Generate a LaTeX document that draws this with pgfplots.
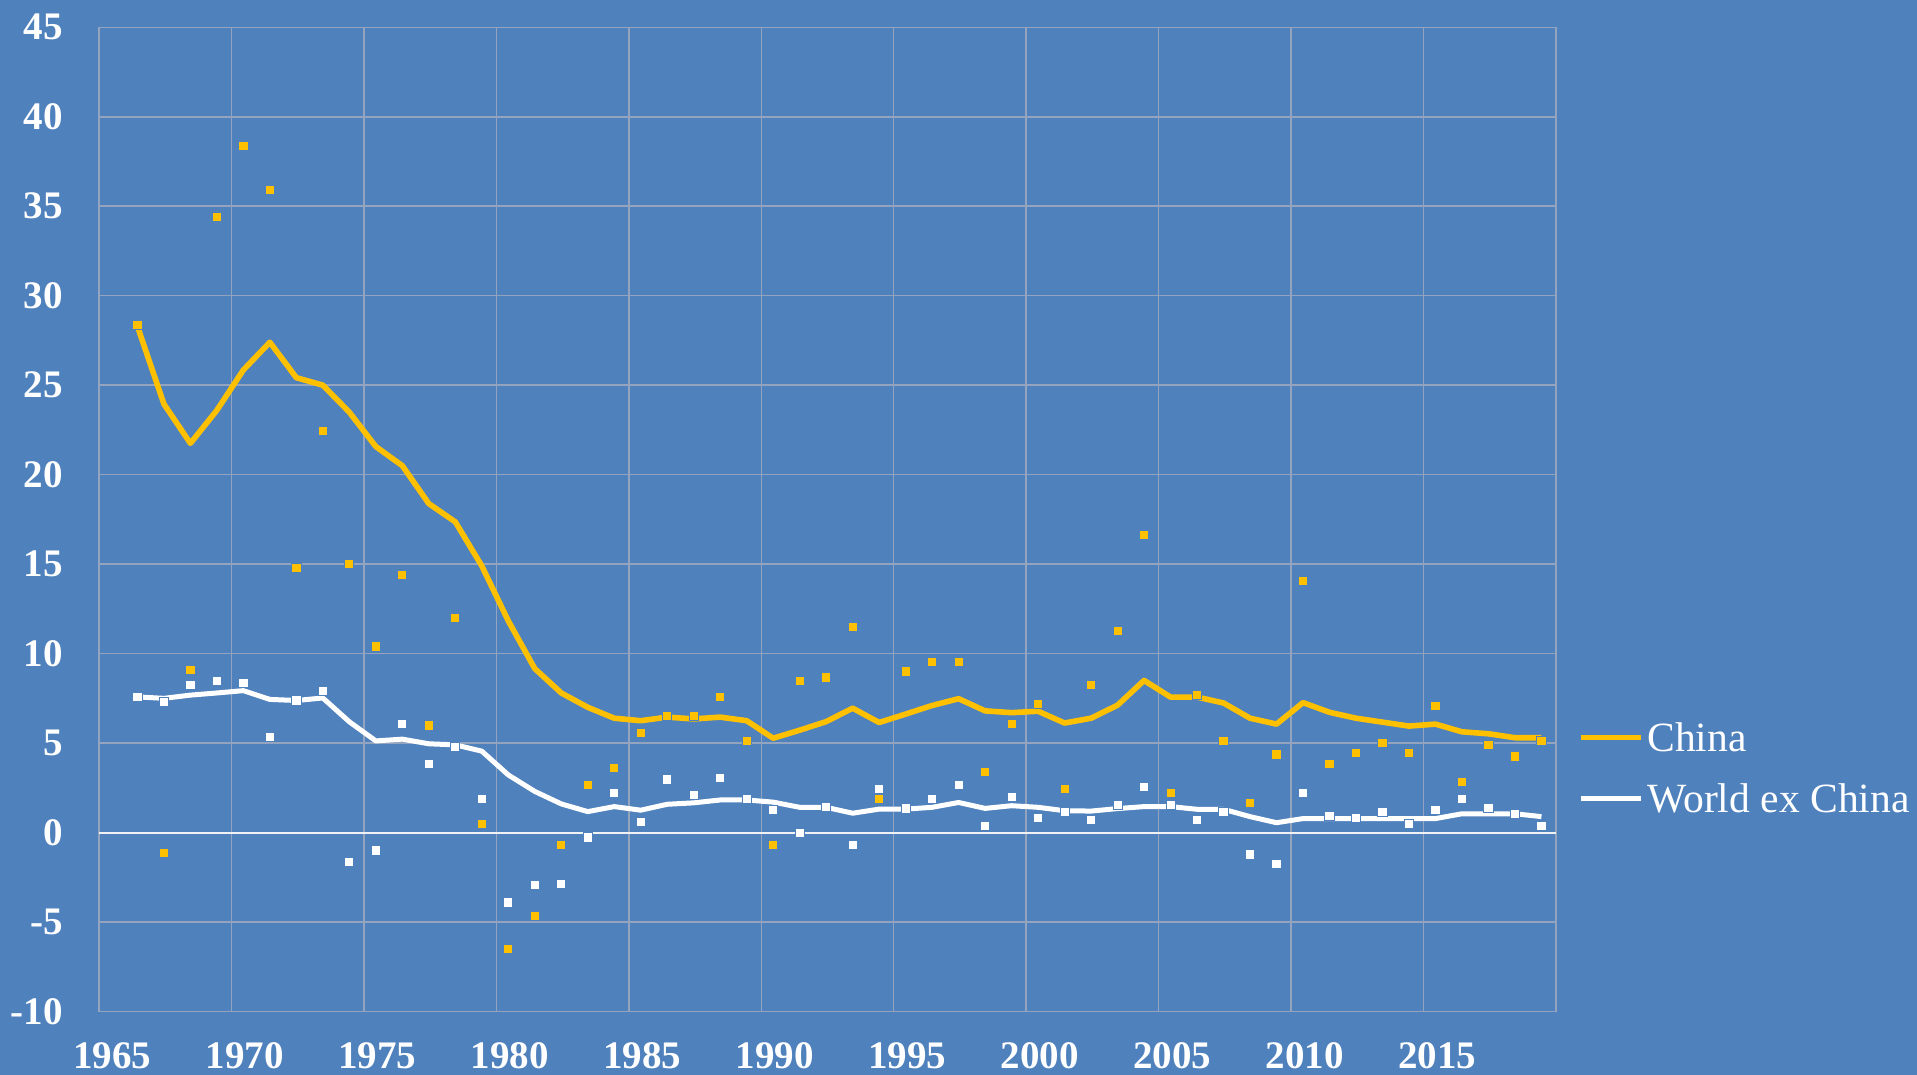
\documentclass[border=0pt]{standalone}
\usepackage{fontspec}
\setmainfont{Liberation Serif}
\usepackage{pgfplots}
\usepackage{pgfplotstable}
\pgfplotsset{compat=1.18}
\definecolor{bg}{HTML}{4F81BD}
\definecolor{gold}{HTML}{FFC000}
\definecolor{gridc}{RGB}{148,164,190}

\pgfplotstableread{
year china world chinaavg worldavg
1966 28.37 7.58 28.3 7.58
1967 -1.13 7.30 23.95 7.50
1968 9.10 8.24 21.75 7.68
1969 34.40 8.46 23.60 7.80
1970 38.39 8.36 25.85 7.93
1971 35.90 5.33 27.40 7.44
1972 14.80 7.38 25.42 7.38
1973 22.44 7.91 25.00 7.52
1974 15.00 -1.66 23.49 6.19
1975 10.40 -1.00 21.57 5.12
1976 14.38 6.08 20.50 5.22
1977 5.98 3.83 18.38 4.96
1978 12.00 4.79 17.36 4.90
1979 0.49 1.88 14.90 4.55
1980 -6.49 -3.91 11.83 3.22
1981 -4.67 -2.95 9.16 2.30
1982 -0.70 -2.85 7.80 1.60
1983 2.67 -0.27 7.00 1.17
1984 3.60 2.21 6.39 1.45
1985 5.55 0.59 6.25 1.25
1986 6.52 2.97 6.45 1.58
1987 6.52 2.09 6.35 1.66
1988 7.60 3.07 6.45 1.82
1989 5.12 1.88 6.25 1.82
1990 -0.69 1.25 5.27 1.70
1991 8.46 -0.04 5.72 1.41
1992 8.67 1.45 6.20 1.41
1993 11.48 -0.69 6.95 1.08
1994 1.88 2.42 6.15 1.31
1995 9.00 1.35 6.62 1.31
1996 9.53 1.88 7.10 1.41
1997 9.53 2.64 7.48 1.68
1998 3.40 0.39 6.80 1.35
1999 6.09 2.00 6.70 1.50
2000 7.17 0.82 6.78 1.41
2001 2.43 1.13 6.12 1.22
2002 8.24 0.71 6.39 1.20
2003 11.25 1.56 7.12 1.34
2004 16.64 2.54 8.50 1.45
2005 2.20 1.56 7.57 1.45
2006 7.70 0.71 7.57 1.30
2007 5.12 1.13 7.24 1.30
2008 1.67 -1.22 6.39 0.89
2009 4.36 -1.76 6.06 0.55
2010 14.05 2.20 7.26 0.78
2011 3.83 0.91 6.72 0.78
2012 4.47 0.80 6.39 0.78
2013 5.01 1.13 6.17 0.78
2014 4.47 0.49 5.95 0.78
2015 7.06 1.25 6.06 0.78
2016 2.85 1.89 5.63 1.05
2017 4.90 1.36 5.52 1.05
2018 4.25 1.02 5.30 1.05
2019 5.10 0.38 5.30 0.89
}\datatable

\begin{document}
\begin{tikzpicture}
\useasboundingbox (-49.5pt,-31.75pt) rectangle (909pt,505.75pt);
\fill[bg] (-49.5pt,-31.75pt) rectangle (909pt,505.75pt);
\begin{axis}[
  at={(0pt,0pt)}, anchor=south west,
  scale only axis, width=728.5pt, height=492.1pt,
  xmin=1965, xmax=2020, ymin=-10, ymax=45,
  xtick={1965,1970,...,2015},
  xticklabels={1965,1970,1975,1980,1985,1990,1995,2000,2005,2010,2015},
  ytick={-10,-5,...,45},
  yticklabels={-10,-5,0,5,10,15,20,25,30,35,40,45},
  grid=major,
  grid style={gridc, line width=0.75pt},
  axis line style={gridc, line width=0.75pt},
  major tick length=0pt,
  tick style={draw=none},
  ticklabel style={text=white, font=\bfseries\fontsize{19.5}{22}\selectfont, inner sep=0pt},
  xticklabel style={anchor=north, yshift=-15.5pt, xshift=6.75pt},
  yticklabel style={anchor=east, xshift=-18pt},
  extra y ticks={0}, extra y tick labels={},
  extra y tick style={grid style={white!85!gridc, line width=1pt}},
  legend style={at={(1.0149,0.2475)}, anchor=west, draw=none, fill=none,
    inner sep=0pt, outer sep=0pt, text=white,
    font=\fontsize{20.8}{24}\selectfont, row sep=16.35pt,
    nodes={inner xsep=2pt, inner ysep=0pt, text height=14pt, text depth=0pt}},
  legend cell align=left,
  legend image code/.code={\draw[#1] (0pt,0pt) -- (30pt,0pt);},
]
\addplot[gold, line width=2.8pt, line join=round] table[x expr=\thisrow{year}+0.45, y=chinaavg] {\datatable};
\addlegendentry{China}
\addplot[white, line width=2.5pt, line join=round] table[x expr=\thisrow{year}+0.45, y=worldavg] {\datatable};
\addlegendentry{World ex China}
\addplot[only marks, mark=square*, mark size=2.3pt, mark options={fill=gold, draw=bg, line width=0.45pt}, forget plot] table[x expr=\thisrow{year}+0.45, y=china] {\datatable};
\addplot[only marks, mark=square*, mark size=2.3pt, mark options={fill=white, draw=bg, line width=0.45pt}, forget plot] table[x expr=\thisrow{year}+0.45, y=world] {\datatable};
\end{axis}
\end{tikzpicture}
\end{document}
